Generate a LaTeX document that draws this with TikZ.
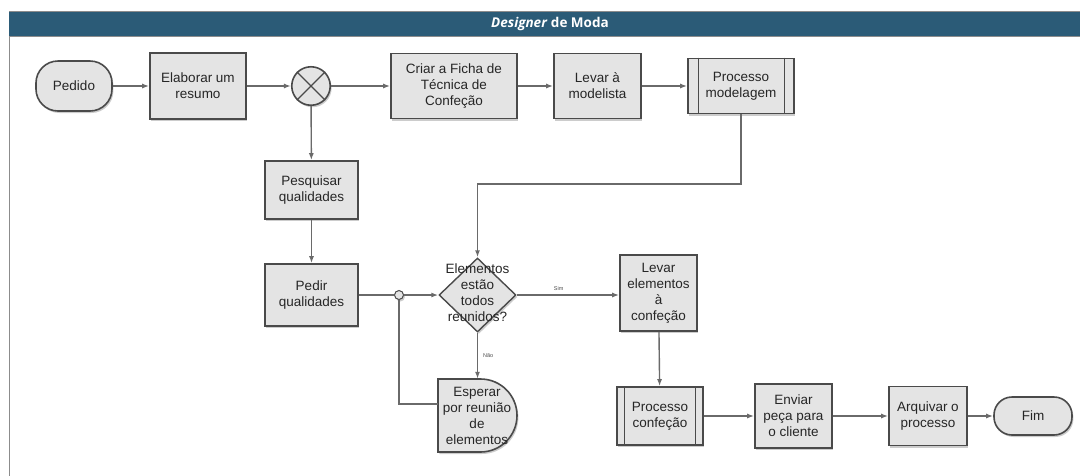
\documentclass[tikz,border=0pt]{standalone}
\usepackage{fontspec}
\setmainfont{Liberation Sans}
\newfontfamily\titlefont{Open Sans}
\usetikzlibrary{shapes.geometric,arrows.meta,shadows}

\definecolor{hdr}{HTML}{2B5B77}
\definecolor{boxfill}{HTML}{E4E4E4}
\definecolor{boxline}{HTML}{4A4A4A}
\definecolor{wire}{HTML}{6A6A6A}

\tikzset{
  x=1pt, y=1pt,
  lbl/.style={font=\fontsize{13.5}{16}\selectfont, align=center, text=black!85, inner sep=0pt},
  base/.style={draw=boxline, line width=1.6pt, fill=boxfill,
    drop shadow={shadow xshift=1.4pt, shadow yshift=-2pt, fill=black!40, opacity=0.5}},
  task/.style={base, lbl, rectangle},
  term/.style={base, lbl, rectangle, rounded corners=#1},
  subbar/.style={draw=boxline, line width=1.2pt},
  wire/.style={draw=wire, line width=1.4pt},
  arr/.style={wire, -{Latex[length=7pt,width=5pt]}},
  tiny/.style={font=\fontsize{5.5}{6}\selectfont, text=black!70, inner sep=1pt},
}

\begin{document}
\begin{tikzpicture}
\useasboundingbox (0,0) rectangle (1080,-475);

% lane frame and header
\draw[draw=black!45, line width=1pt] (9,-36) -- (9,-476);
\fill[hdr] (9,-11) rectangle (1081,-36);
\draw[black!45, line width=0.8pt] (9,-11) -- (1081,-11) (9,-36) -- (1081,-36);
\node[font=\titlefont\bfseries\fontsize{13.5}{15}\selectfont, text=white] (title) at (550,-23.5)
  {\textit{Designer} de Moda};

% top row
\node[term=22pt, minimum width=76, minimum height=50] (pedido) at (74,-86) {Pedido};
\node[task, minimum width=96, minimum height=66] (elab) at (198,-86) {Elaborar um\\resumo};
\node[base, circle, minimum size=38.5, inner sep=0pt] (gw) at (311,-86) {};
\draw[boxline, line width=1.3pt] (gw.north west) -- (gw.south east) (gw.north east) -- (gw.south west);
\node[task, minimum width=126, minimum height=65] (criar) at (454,-86) {Criar a Ficha de\\Técnica de\\Confeção};
\node[task, minimum width=87, minimum height=65] (levar) at (597.5,-86) {Levar à\\modelista};
\node[task, minimum width=106, minimum height=55] (pmod) at (741,-86) {Processo\\modelagem};
\draw[subbar] ([xshift=11pt]pmod.north west) -- ([xshift=11pt]pmod.south west)
              ([xshift=-10pt]pmod.north east) -- ([xshift=-10pt]pmod.south east);

% middle column
\node[task, minimum width=93, minimum height=58] (pesq) at (311.5,-190) {Pesquisar\\qualidades};
\node[task, minimum width=93, minimum height=62] (pedir) at (311.5,-295) {Pedir\\qualidades};
\node[base, circle, minimum size=9, inner sep=0pt, line width=1pt] (jn) at (399,-295) {};

% decision
\node[base, diamond, minimum width=77, minimum height=74, inner sep=0pt, line width=1.4pt] (dec) at (477.5,-295) {};
\node[lbl] (dectext) at (477.5,-293) {Elementos\\estão\\todos\\reunidos?};

\node[task, minimum width=77, minimum height=76] (level) at (658.5,-293) {Levar\\elementos\\à\\confeção};

% delay shape
\path[base] (438,-379) -- (480.5,-379) arc[start angle=90, end angle=-90, radius=36.5] -- (438,-452) -- cycle;
\node[lbl, minimum width=79, minimum height=73] (esp) at (477.5,-415.5) {};
\node[lbl] (esptext) at (477,-416) {Esperar\\por reunião\\de\\elementos};

% bottom row
\node[task, minimum width=86, minimum height=58] (pconf) at (660,-416) {Processo\\confeção};
\draw[subbar] ([xshift=8pt]pconf.north west) -- ([xshift=8pt]pconf.south west)
              ([xshift=-8pt]pconf.north east) -- ([xshift=-8pt]pconf.south east);
\node[task, minimum width=77, minimum height=64] (env) at (793.5,-416) {Enviar\\peça para\\o cliente};
\node[task, minimum width=78, minimum height=59] (arq) at (928,-416) {Arquivar o\\processo};
\node[term=18pt, minimum width=78, minimum height=38] (fim) at (1033,-416) {Fim};

% connectors
\draw[arr] (pedido) -- (elab);
\draw[arr] (elab) -- (gw);
\draw[arr] (gw) -- (criar);
\draw[arr] (criar) -- (levar);
\draw[arr] (levar) -- (pmod);
\draw[arr] (gw) -- (pesq);
\draw[arr] (pesq) -- (pedir);
\draw[wire] (pedir) -- (jn);
\draw[arr] (jn) -- (dec);
\draw[arr] (pmod.south) -- ++(0,-69.5) -| (dec.north);
\draw[arr] (dec.east) -- (dec.east -| level.west) node[tiny, pos=0.41, above=3pt] {Sim};
\draw[arr] (dec.south) -- (dec.south |- esp.north) node[tiny, pos=0.5, right=4pt] {Não};
\draw[wire] ([yshift=11.5pt]esp.west) -| (jn.south);
\draw[arr] (level) -- (pconf);
\draw[arr] (pconf) -- (env);
\draw[arr] (env) -- (arq);
\draw[arr] (arq) -- (fim);
\end{tikzpicture}
\end{document}
